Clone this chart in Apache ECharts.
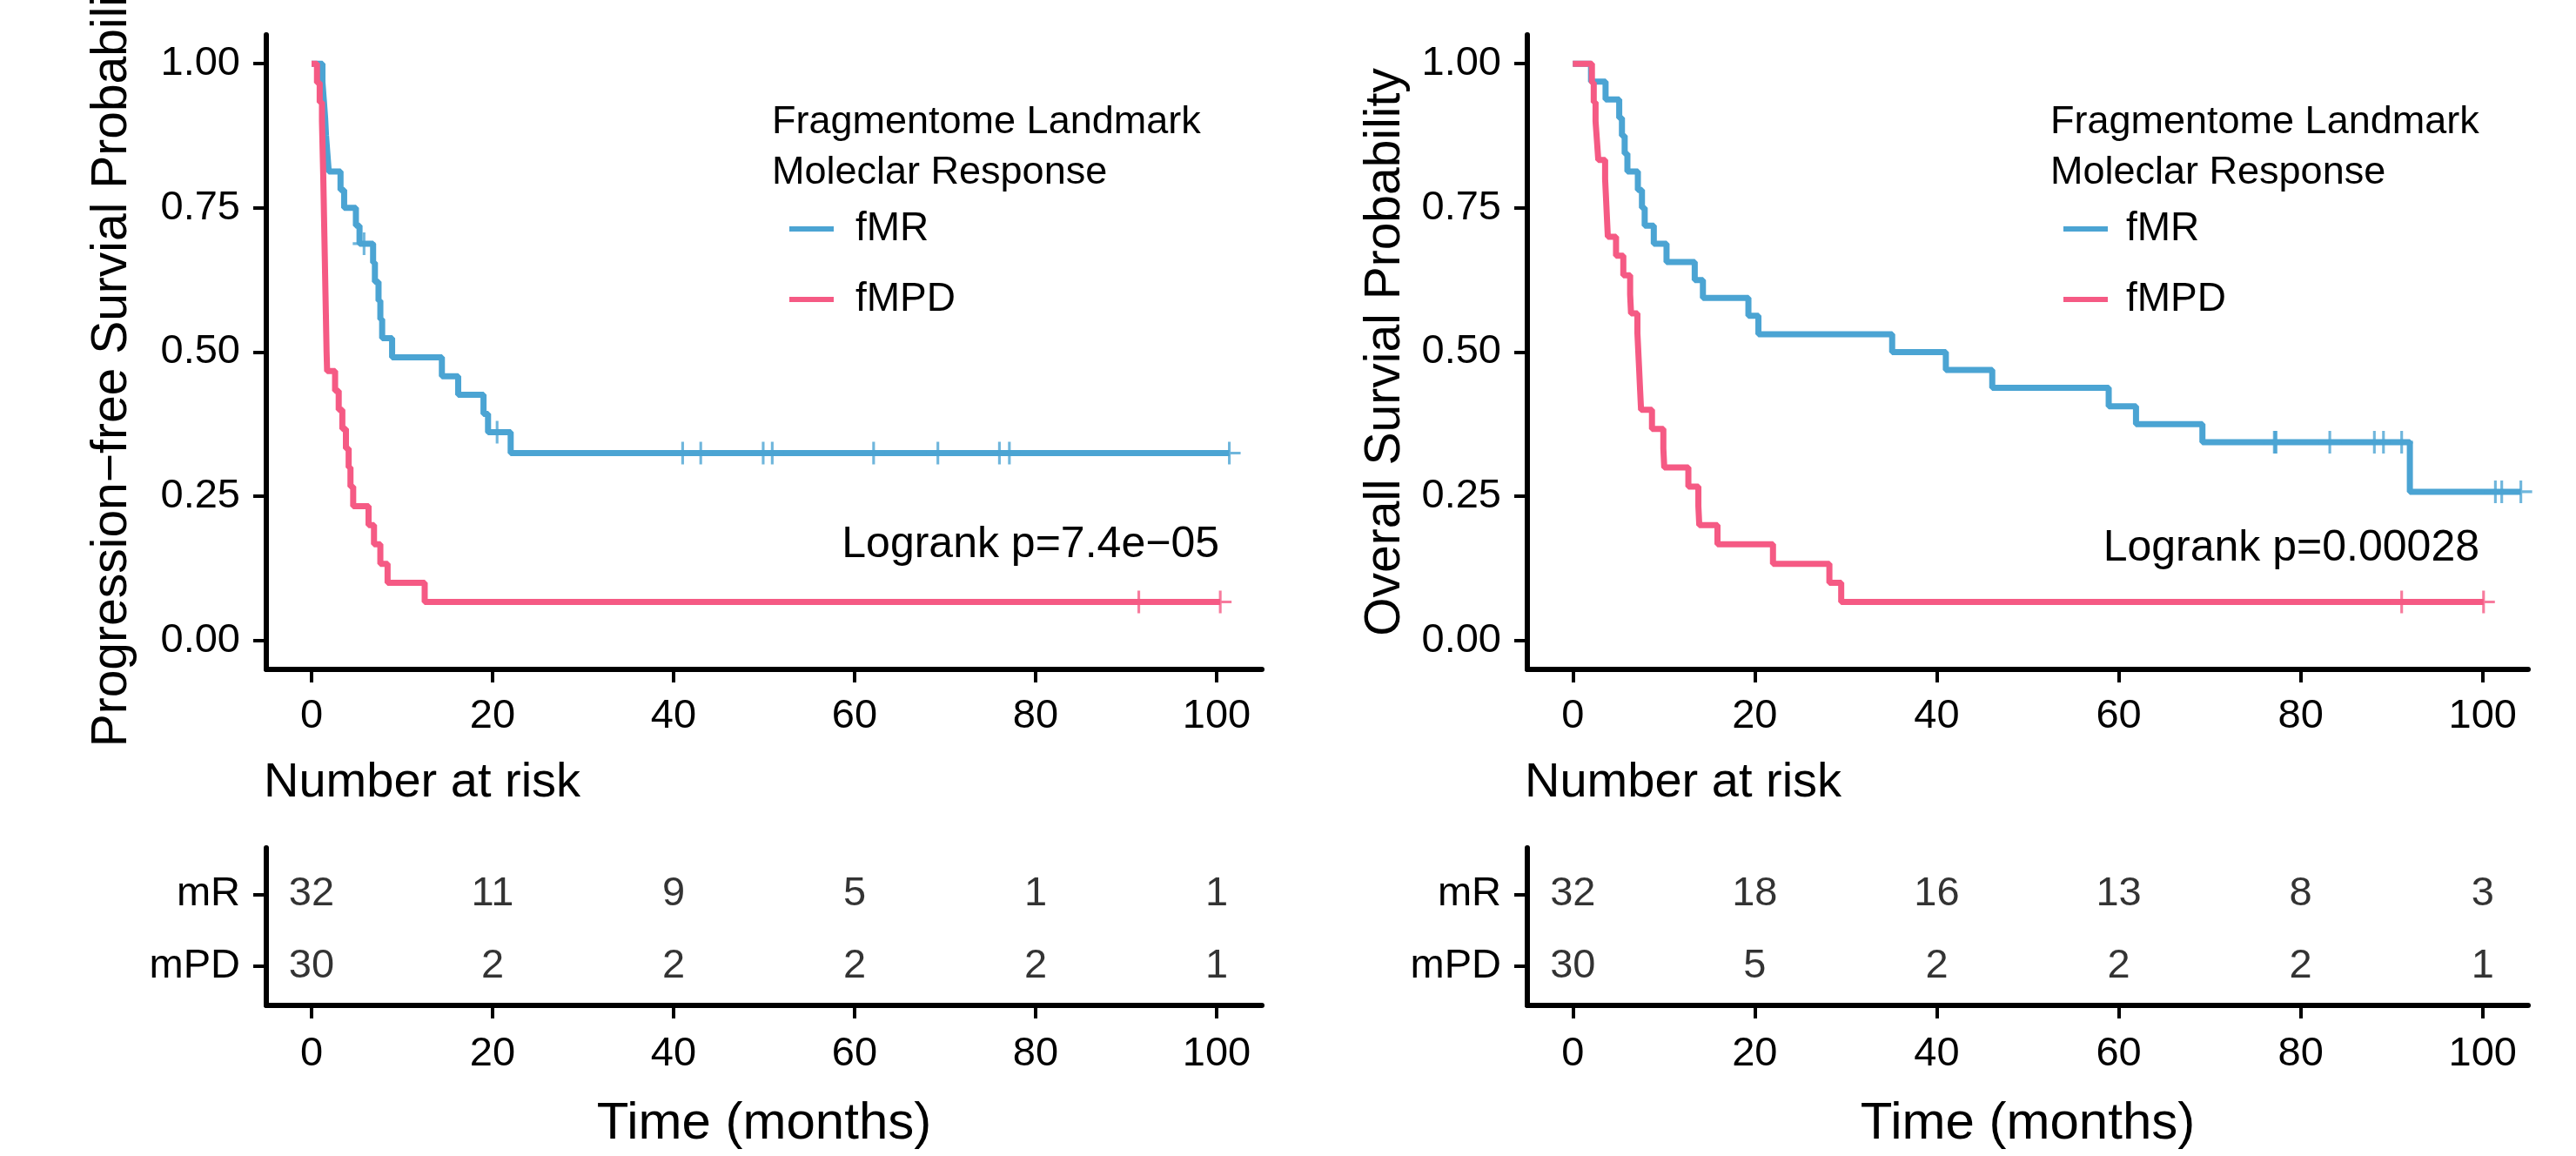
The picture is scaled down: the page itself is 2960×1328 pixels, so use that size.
<!DOCTYPE html>
<html><head><meta charset="utf-8">
<script src="https://cdn.jsdelivr.net/npm/echarts@6/dist/echarts.min.js"></script>
<style>html,body{margin:0;padding:0;background:#fff}#c{width:2960px;height:1328px}</style>
</head><body><div id="c"></div>
<script>
// ---------- data ----------
const timeTicks = [0, 20, 40, 60, 80, 100];
const survTicks = [0, 0.25, 0.5, 0.75, 1];
const riskGroups = ['mPD', 'mR'];           // bottom row, top row
const groupNames = ['fMR', 'fMPD'];

// Progression-free survival, step points [time, survival]
const pfsMR = [[0,1],[1.2,0.969],[1.35,0.938],[1.5,0.906],[1.6,0.875],[1.75,0.844],[1.9,0.813],
  [3.2,0.781],[3.6,0.75],[4.9,0.719],[5.3,0.688],[6.8,0.655],[7.0,0.622],[7.4,0.589],[7.6,0.557],
  [7.8,0.524],[8.9,0.491],[14.4,0.458],[16.2,0.426],[19.0,0.393],[19.5,0.361],[22.0,0.325],[101.4,0.325]];
const pfsMRCensor = [[5.8,0.688],[20.5,0.361],[41.0,0.325],[43.0,0.325],[49.9,0.325],[50.9,0.325],
  [62.1,0.325],[69.2,0.325],[76.0,0.325],[77.1,0.325],[101.4,0.325]];
const pfsMPD = [[0,1],[0.6,0.967],[0.9,0.933],[1.15,0.9],[1.2,0.867],[1.25,0.833],[1.3,0.8],[1.34,0.767],
  [1.38,0.733],[1.42,0.7],[1.46,0.667],[1.5,0.633],[1.54,0.6],[1.58,0.567],[1.62,0.533],[1.66,0.5],
  [1.72,0.467],[2.6,0.433],[3.0,0.4],[3.4,0.367],[3.8,0.333],[4.1,0.3],[4.3,0.267],[4.6,0.233],
  [6.3,0.2],[6.9,0.167],[7.6,0.133],[8.4,0.1],[12.5,0.067],[100.4,0.067]];
const pfsMPDCensor = [[91.4,0.067],[100.4,0.067]];

// Overall survival, step points [time, survival]
const osMR = [[0,1],[2.0,0.969],[3.6,0.938],[5.1,0.906],[5.4,0.875],[5.7,0.844],[6.0,0.813],
  [7.15,0.781],[7.6,0.75],[7.9,0.719],[8.9,0.688],[10.3,0.656],[13.4,0.625],[14.3,0.594],
  [19.3,0.563],[20.4,0.531],[35.1,0.5],[41.0,0.469],[46.1,0.438],[58.9,0.406],[61.9,0.375],
  [69.2,0.344],[92.0,0.258],[104.2,0.258]];
const osMRCensor = [[77.1,0.344],[77.2,0.344],[77.3,0.344],[83.2,0.344],[88.1,0.344],[89.1,0.344],
  [91.1,0.344],[101.4,0.258],[102.1,0.258],[104.2,0.258]];
const osMPD = [[0,1],[2.1,0.967],[2.3,0.933],[2.5,0.9],[2.65,0.867],[2.8,0.833],[3.55,0.8],[3.65,0.767],
  [3.75,0.733],[3.85,0.7],[4.75,0.667],[5.55,0.633],[6.3,0.6],[6.4,0.567],[7.1,0.533],[7.2,0.5],
  [7.3,0.467],[7.4,0.433],[7.5,0.4],[8.7,0.367],[9.95,0.333],[10.05,0.3],[12.7,0.267],[13.8,0.233],
  [13.9,0.2],[15.9,0.167],[22.0,0.133],[28.2,0.1],[29.5,0.067],[100.1,0.067]];
const osMPDCensor = [[91.1,0.067],[100.1,0.067]];

// Number at risk at timeTicks
const pfsRiskMR = [32, 11, 9, 5, 1, 1];
const pfsRiskMPD = [30, 2, 2, 2, 2, 1];
const osRiskMR = [32, 18, 16, 13, 8, 3];
const osRiskMPD = [30, 5, 2, 2, 2, 1];

const pfsLabel = 'Progression\u2212free Survial Probability';
const osLabel = 'Overall Survial Probability';
const pfsP = 'Logrank p=7.4e\u221205';
const osP = 'Logrank p=0.00028';
const legendTitle = 'Fragmentome Landmark\nMoleclar Response';
const riskTitle = 'Number at risk';
const timeTitle = 'Time (months)';

// ---------- styling ----------
const FONT = '"Liberation Sans", Arial, Helvetica, sans-serif';
const BLUE = '#4BA4D3';
const PINK = '#F55A84';
const PLUS = 'path://M-1.5,-12.5L1.5,-12.5L1.5,-1.5L12.5,-1.5L12.5,1.5L1.5,1.5L1.5,12.5L-1.5,12.5L-1.5,1.5L-12.5,1.5L-12.5,-1.5L-1.5,-1.5Z';

const grids = [
  {left: 306, top: 40, width: 1144, height: 729, outerBoundsMode: 'none', containLabel: false},
  {left: 1755, top: 40, width: 1150, height: 729, outerBoundsMode: 'none', containLabel: false},
  {left: 306, top: 974, width: 1144, height: 181, outerBoundsMode: 'none', containLabel: false},
  {left: 1755, top: 974, width: 1150, height: 181, outerBoundsMode: 'none', containLabel: false}
];

function xAx(gi, name, margin) {
  return {
    type: 'value', gridIndex: gi, min: -5, max: 105,
    axisLine: {show: true, onZero: false, lineStyle: {color: '#000', width: 6}},
    axisTick: {show: true, length: 15, lineStyle: {color: '#000', width: 4}, customValues: timeTicks},
    axisLabel: {show: true, customValues: timeTicks, fontSize: 47, color: '#000', fontFamily: FONT, margin: margin},
    splitLine: {show: false},
    name: name || '', nameLocation: 'middle', nameGap: 106,
    nameTextStyle: {fontSize: 60, color: '#000', fontFamily: FONT}
  };
}
function ySurv(gi, name, gap) {
  return {
    type: 'value', gridIndex: gi, min: -0.05, max: 1.05,
    axisLine: {show: true, onZero: false, lineStyle: {color: '#000', width: 6}},
    axisTick: {show: true, length: 15, lineStyle: {color: '#000', width: 4}, customValues: survTicks},
    axisLabel: {show: true, customValues: survTicks, formatter: v => Number(v).toFixed(2),
      fontSize: 47, color: '#000', fontFamily: FONT, margin: 30},
    splitLine: {show: false},
    name: name, nameLocation: 'middle', nameRotate: 90, nameGap: gap,
    nameTextStyle: {fontSize: 57, color: '#000', fontFamily: FONT}
  };
}
function yRisk(gi) {
  return {
    type: 'value', gridIndex: gi, min: 0.45, max: 2.65,
    axisLine: {show: true, onZero: false, lineStyle: {color: '#000', width: 6}},
    axisTick: {show: true, length: 15, lineStyle: {color: '#000', width: 4}, customValues: [1, 2]},
    axisLabel: {show: true, customValues: [1, 2], formatter: v => riskGroups[Math.round(v) - 1],
      fontSize: 47, color: '#000', fontFamily: FONT, margin: 30},
    splitLine: {show: false}
  };
}

function curve(name, data, color, idx) {
  return {type: 'line', name: name, xAxisIndex: idx, yAxisIndex: idx, data: data, step: 'end',
    showSymbol: false, symbol: 'none', color: color, lineStyle: {width: 7, color: color}, z: 3, silent: true};
}
function censor(name, data, color, idx) {
  return {type: 'scatter', name: name, xAxisIndex: idx, yAxisIndex: idx, data: data,
    symbol: PLUS, symbolSize: 26, itemStyle: {color: color}, z: 4, silent: true};
}
function risk(vals, row, idx) {
  return {type: 'scatter', xAxisIndex: idx, yAxisIndex: idx, silent: true,
    data: timeTicks.map((t, i) => [t, row, vals[i]]),
    symbolSize: 1, itemStyle: {color: 'rgba(0,0,0,0)'},
    label: {show: true, position: 'inside', formatter: p => String(p.value[2]),
      fontSize: 47, color: '#000', fontFamily: FONT}};
}
function legend(left, pad) {
  return {orient: 'vertical', left: left, top: 235, itemWidth: 51, itemHeight: 6, itemGap: 35,
    icon: 'rect', data: groupNames, selectedMode: false,
    textStyle: {fontSize: 46, color: '#000', fontFamily: FONT, padding: [0, 0, 0, pad]}};
}
function txt(x, y, text, size, align, va, lh) {
  const st = {text: text, fontSize: size, fontFamily: FONT, fill: '#000', align: align, verticalAlign: va};
  if (lh) st.lineHeight = lh;
  return {type: 'text', x: x, y: y, silent: true, style: st};
}

const option = {
  animation: false,
  backgroundColor: '#fff',
  grid: grids,
  xAxis: [xAx(0, '', 31), xAx(1, '', 31), xAx(2, timeTitle, 33), xAx(3, timeTitle, 33)],
  yAxis: [ySurv(0, pfsLabel, 148), ySurv(1, osLabel, 134), yRisk(2), yRisk(3)],
  legend: [legend(902, 20), legend(2366, 16)],
  series: [
    curve(groupNames[0], pfsMR, BLUE, 0),
    curve(groupNames[1], pfsMPD, PINK, 0),
    censor('fMR censored', pfsMRCensor, BLUE, 0),
    censor('fMPD censored', pfsMPDCensor, PINK, 0),
    curve(groupNames[0], osMR, BLUE, 1),
    curve(groupNames[1], osMPD, PINK, 1),
    censor('fMR censored', osMRCensor, BLUE, 1),
    censor('fMPD censored', osMPDCensor, PINK, 1),
    risk(pfsRiskMR, 2, 2), risk(pfsRiskMPD, 1, 2),
    risk(osRiskMR, 2, 3), risk(osRiskMPD, 1, 3)
  ],
  graphic: [
    txt(887, 112, legendTitle, 45, 'left', 'top', 58),
    txt(2356, 112, legendTitle, 45, 'left', 'top', 58),
    txt(1401, 626, pfsP, 50, 'right', 'middle'),
    txt(2849, 630, osP, 50, 'right', 'middle'),
    txt(303, 900, riskTitle, 56, 'left', 'middle'),
    txt(1752, 900, riskTitle, 56, 'left', 'middle')
  ]
};
const chart = echarts.init(document.getElementById('c'));
chart.setOption(option);
</script></body></html>
